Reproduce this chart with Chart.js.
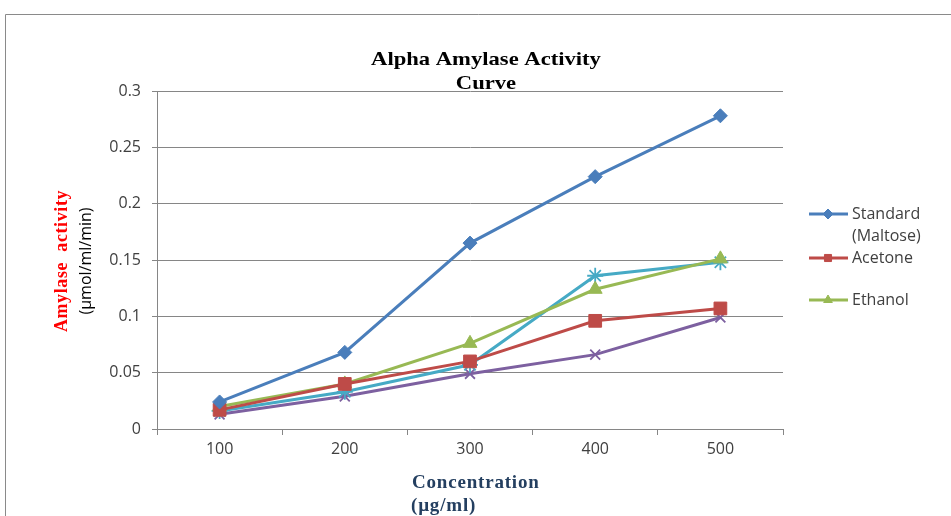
<!DOCTYPE html>
<html><head><meta charset="utf-8">
<script src="https://cdn.jsdelivr.net/npm/chart.js@4/dist/chart.umd.min.js"></script>
<style>html,body{margin:0;padding:0;background:#fff}#wrap{width:951px;height:516px}</style>
</head><body><div id="wrap"><canvas id="c" width="951" height="516"></canvas></div>
<script>
const categories = ['100','200','300','400','500'];
const standardMaltose = [0.024,0.068,0.165,0.224,0.278];
const acetone = [0.017,0.040,0.060,0.096,0.107];
const ethanol = [0.020,0.040,0.076,0.124,0.151];
const series4 = [0.016,0.033,0.057,0.136,0.148];
const series5 = [0.013,0.029,0.049,0.066,0.099];
const yTicks = [0,0.05,0.1,0.15,0.2,0.25,0.3];
const seriesNames = ['Standard (Maltose)','Acetone','Ethanol','Series 4','Series 5'];
const legendLabels = [['Standard','(Maltose)'],['Acetone'],['Ethanol']];
const chartTitle = ['Alpha Amylase Activity','Curve'];
const yTitle = ['Amylase  activity','(µmol/ml/min)'];
const xTitle = ['Concentration','(µg/ml)'];

const colors = ['#4A7EBB','#BE4B48','#98B954','#46AAC5','#7D60A0'];
const styles = ['rectRot','rect','triangle','star','crossRot'];
const radii = [7,9,8,8,7];
const values = [standardMaltose, acetone, ethanol, series4, series5];

const datasets = values.map((v,i)=>({
  label: seriesNames[i],
  data: v,
  borderColor: colors[i],
  backgroundColor: colors[i],
  pointBackgroundColor: colors[i],
  pointBorderColor: colors[i],
  pointStyle: styles[i],
  pointRadius: radii[i],
  pointBorderWidth: (styles[i]==='star'||styles[i]==='crossRot') ? 1.8 : 1,
  borderWidth: 3,
  tension: 0,
  fill: false,
  order: i
}));

const decor = {
  id: 'decor',
  beforeDraw(chart){
    const ctx = chart.ctx;
    ctx.save();
    ctx.fillStyle = '#fff';
    ctx.fillRect(0,0,chart.width,chart.height);
    ctx.strokeStyle = '#8a8a8a';
    ctx.lineWidth = 1;
    ctx.beginPath();
    ctx.moveTo(5.5, chart.height);
    ctx.lineTo(5.5, 14.5);
    ctx.lineTo(chart.width, 14.5);
    ctx.stroke();
    ctx.restore();
  },
  afterDraw(chart){
    const ctx = chart.ctx;
    ctx.save();
    // chart title (horizontally stretched serif bold)
    ctx.fillStyle = '#000';
    ctx.textAlign = 'center';
    ctx.textBaseline = 'middle';
    ctx.font = 'bold 19px "Liberation Serif"';
    ctx.save();
    ctx.translate(486, 0);
    ctx.scale(1.19, 1);
    ctx.fillText(chartTitle[0], 0, 60);
    ctx.fillText(chartTitle[1], 0, 84);
    ctx.restore();
    // y title
    ctx.save();
    ctx.translate(62, 261);
    ctx.rotate(-Math.PI/2);
    ctx.fillStyle = '#FF0000';
    ctx.font = 'bold 18px "Liberation Serif"';
    ctx.letterSpacing = '0.6px';
    ctx.fillText(yTitle[0], 0, 0);
    ctx.restore();
    ctx.save();
    ctx.translate(86, 261);
    ctx.rotate(-Math.PI/2);
    ctx.fillStyle = '#000';
    ctx.font = '16px "Open Sans"';
    ctx.fillText(yTitle[1], 0, 0);
    ctx.restore();
    // x title
    ctx.save();
    ctx.fillStyle = '#243F60';
    ctx.textAlign = 'left';
    ctx.font = 'bold 19px "Liberation Serif"';
    ctx.letterSpacing = '0.8px';
    ctx.fillText(xTitle[0], 412, 483);
    ctx.fillText(xTitle[1], 411, 506);
    ctx.restore();
    // legend
    const ys = [214, 258, 300];
    ctx.font = '16px "Open Sans"';
    ctx.textAlign = 'left';
    legendLabels.forEach((lines, i)=>{
      const y = ys[i];
      ctx.strokeStyle = colors[i];
      ctx.lineWidth = 3;
      ctx.beginPath();
      ctx.moveTo(809, y);
      ctx.lineTo(848, y);
      ctx.stroke();
      ctx.fillStyle = colors[i];
      ctx.strokeStyle = colors[i];
      ctx.lineWidth = 1;
      if (Chart.helpers && Chart.helpers.drawPoint) {
        Chart.helpers.drawPoint(ctx, {pointStyle: styles[i], radius: 5, borderWidth: 1, rotation: 0}, 828, y);
      }
      ctx.fillStyle = '#404040';
      lines.forEach((t, k)=>{
        ctx.fillText(t, 852, y + k*22);
      });
    });
    ctx.restore();
  }
};

new Chart(document.getElementById('c'), {
  type: 'line',
  data: { labels: categories, datasets },
  options: {
    responsive: false,
    animation: false,
    devicePixelRatio: 1,
    layout: { padding: { left: 97, top: 91, right: 168, bottom: 0 } },
    plugins: { legend: { display: false }, title: { display: false }, tooltip: { enabled: false } },
    scales: {
      x: {
        offset: true,
        grid: { offset: true, drawOnChartArea: false, drawTicks: true, tickLength: 6, color: '#868686' },
        border: { color: '#868686', width: 1 },
        ticks: { color: '#404040', font: { family: 'Open Sans', size: 16 }, padding: 5, maxRotation: 0 },
        afterFit(s){ s.height = 87; }
      },
      y: {
        min: 0, max: 0.3,
        afterBuildTicks(s){ s.ticks = yTicks.map(v=>({value:v})); },
        grid: { color: '#868686', tickLength: 5 },
        border: { color: '#868686', width: 1 },
        ticks: { color: '#404040', font: { family: 'Open Sans', size: 16 }, padding: 11,
          callback: v => String(+Number(v).toFixed(2)) },
        afterFit(s){ s.width = 60; }
      }
    }
  },
  plugins: [decor]
});
</script>
</body></html>
